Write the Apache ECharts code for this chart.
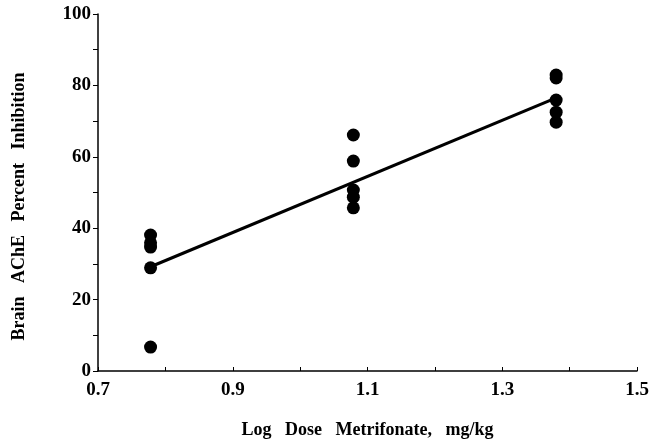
<!DOCTYPE html>
<html><head><meta charset="utf-8">
<script src="https://cdn.jsdelivr.net/npm/echarts@6/dist/echarts.min.js"></script>
<style>html,body{margin:0;padding:0;background:#fff}#c{width:659px;height:448px}</style>
</head><body><div id="c"></div>
<script>
const doseX = [0.778, 1.079, 1.380];
const inhibition6 = [38.1, 35.9, 34.7, 28.9, 6.7];
const inhibition12 = [66.1, 58.8, 50.7, 48.7, 45.7];
const inhibition24 = [82.9, 82.1, 75.9, 72.5, 69.7];
const fitX = [0.778, 1.380];
const fitY = [29.2, 76.5];
const xTicks = ['0.7', '0.9', '1.1', '1.3', '1.5'];
const yTicks = ['0', '20', '40', '60', '80', '100'];

const groups = [inhibition6, inhibition12, inhibition24];
const pts = [];
groups.forEach((g, i) => g.forEach(v => pts.push([doseX[i], v])));
const fit = fitX.map((x, i) => [x, fitY[i]]);

const font = '"Liberation Serif", "Times New Roman", serif';
const chart = echarts.init(document.getElementById('c'));
chart.setOption({
  animation: false,
  backgroundColor: '#fff',
  grid: {left: 98, right: 22, top: 14, bottom: 77},
  xAxis: {
    type: 'value', min: 0.7, max: 1.5, interval: 0.1,
    name: 'Log   Dose   Metrifonate,   mg/kg', nameLocation: 'middle', nameGap: 50,
    nameTextStyle: {fontFamily: font, fontWeight: 'bold', fontSize: 18, color: '#000'},
    axisLine: {lineStyle: {color: '#000', width: 1.5}},
    axisTick: {inside: true, length: 4, lineStyle: {color: '#000'}},
    splitLine: {show: false},
    axisLabel: {
      margin: 10, fontFamily: font, fontWeight: 'bold', fontSize: 19, color: '#000',
      formatter: v => { const s = v.toFixed(1); return xTicks.includes(s) ? s : ''; }
    }
  },
  yAxis: {
    type: 'value', min: 0, max: 100, interval: 10,
    name: 'Brain   AChE   Percent   Inhibition', nameLocation: 'middle', nameGap: 70,
    nameTextStyle: {fontFamily: font, fontWeight: 'bold', fontSize: 18, color: '#000', padding: [0, 0, 0, -28]},
    axisLine: {show: true, lineStyle: {color: '#000', width: 1.5}},
    axisTick: {show: true, length: 5, lineStyle: {color: '#000'}},
    splitLine: {show: false},
    axisLabel: {
      margin: 7, fontFamily: font, fontWeight: 'bold', fontSize: 19, color: '#000',
      formatter: v => { const s = String(Math.round(v)); return yTicks.includes(s) ? s : ''; }
    }
  },
  series: [
    {type: 'line', data: fit, symbol: 'none', lineStyle: {color: '#000', width: 3}, z: 2},
    {type: 'scatter', data: pts, symbol: 'circle', symbolSize: 13, itemStyle: {color: '#000', opacity: 1}, z: 3}
  ]
});
</script></body></html>
